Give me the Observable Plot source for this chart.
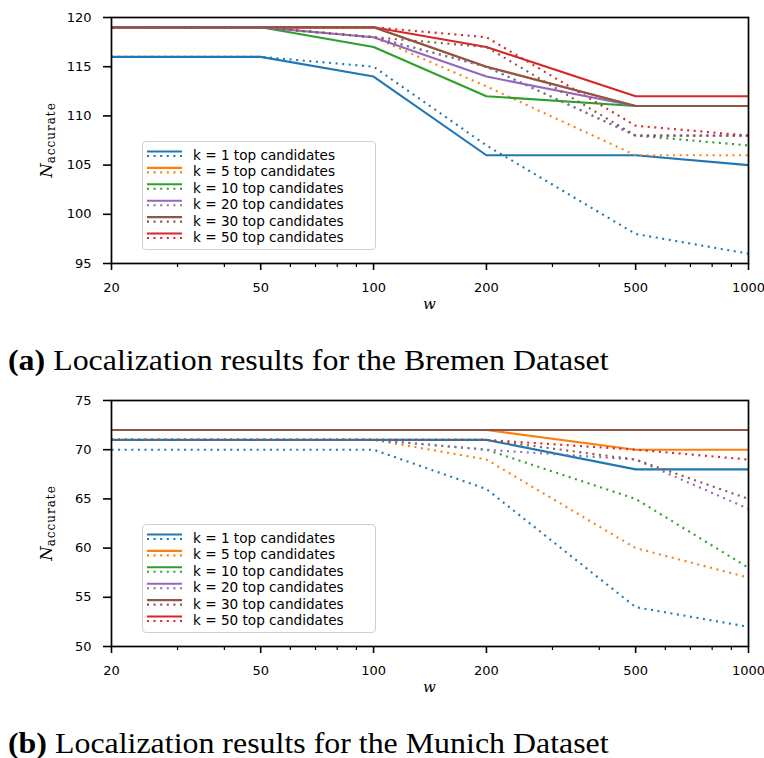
<!DOCTYPE html>
<html><head><meta charset="utf-8">
<script src="https://cdn.jsdelivr.net/npm/d3@7"></script>
<script src="https://cdn.jsdelivr.net/npm/@observablehq/plot@0.6"></script>
<style>
body{margin:0;background:#fff;}
#root{position:relative;width:764px;height:758px;overflow:hidden;background:#fff;}
.panel{position:absolute;left:0;width:764px;height:320px;}
.panel > svg{position:absolute;left:0;top:0;}
.panel > svg text{font-family:"DejaVu Sans";font-size:13px;fill:#000;}
.ylab{position:absolute;left:47px;top:140px;transform:translate(-50%,-50%) rotate(-90deg);white-space:nowrap;font-family:"DejaVu Serif";color:#000;}
.ylab i{font-size:16.5px;}
.ylab sub{font-size:12px;letter-spacing:1px;vertical-align:-3px;}
.xlab{position:absolute;left:429.5px;top:295px;transform:translateX(-50%);font-family:"DejaVu Serif";font-style:italic;font-size:15px;}
.legend{position:absolute;left:142px;top:141px;width:234px;height:109px;box-sizing:border-box;border:1.2px solid #d0d0d0;border-radius:4px;background:rgba(255,255,255,0.8);}
.legend svg{position:absolute;left:-1px;top:-1px;}
.legend svg text{font-family:"DejaVu Sans";font-size:13.6px;fill:#000;}
.caption{position:absolute;left:8px;font-family:"Liberation Serif";font-size:29px;line-height:30px;white-space:nowrap;color:#000;transform:scaleX(1.1);transform-origin:0 50%;}
</style></head><body><div id="root"></div><script>
// x positions (window size w)
const wValues = [20, 50, 100, 200, 500, 1000];
const kValues = [1, 5, 10, 20, 30, 50];
const kColors = ["#1f77b4", "#ff7f0e", "#2ca02c", "#9467bd", "#8c564b", "#d62728"];
const drawOrder = [1, 5, 10, 50, 20, 30];
const xMajorTicks = [20, 50, 100, 200, 500, 1000];
const xMinorTicks = [30, 40, 60, 70, 80, 90, 300, 400, 600, 700, 800, 900];

// Bremen dataset
const bremenSolid1 = [116, 116, 114, 106, 106, 105];
const bremenSolid5 = [119, 119, 119, 115, 111, 111];
const bremenSolid10 = [119, 119, 117, 112, 111, 111];
const bremenSolid20 = [119, 119, 118, 114, 111, 111];
const bremenSolid30 = [119, 119, 119, 115, 111, 111];
const bremenSolid50 = [119, 119, 119, 117, 112, 112];
const bremenDotted1 = [116, 116, 115, 107, 98, 96];
const bremenDotted5 = [119, 119, 118, 113, 106, 106];
const bremenDotted10 = [119, 119, 118, 115, 108, 107];
const bremenDotted20 = [119, 119, 118, 115, 108, 108];
const bremenDotted30 = [119, 119, 118, 117, 108, 108];
const bremenDotted50 = [119, 119, 119, 118, 109, 108];
const bremenYTicks = [95, 100, 105, 110, 115, 120];

// Munich dataset
const munichSolid1 = [71, 71, 71, 71, 68, 68];
const munichSolid5 = [72, 72, 72, 72, 70, 70];
const munichSolid10 = [72, 72, 72, 72, 72, 72];
const munichSolid20 = [72, 72, 72, 72, 72, 72];
const munichSolid30 = [72, 72, 72, 72, 72, 72];
const munichSolid50 = [72, 72, 72, 72, 72, 72];
const munichDotted1 = [70, 70, 70, 66, 54, 52];
const munichDotted5 = [71, 71, 71, 69, 60, 57];
const munichDotted10 = [71, 71, 71, 70, 65, 58];
const munichDotted20 = [71, 71, 71, 70, 69, 64];
const munichDotted30 = [71, 71, 71, 71, 69, 65];
const munichDotted50 = [71, 71, 71, 71, 70, 69];
const munichYTicks = [50, 55, 60, 65, 70, 75];

const legendLabels = kValues.map(k => `k = ${k} top candidates`);
const captions = [
  ["(a)", "Localization results for the Bremen Dataset"],
  ["(b)", "Localization results for the Munich Dataset"]
];

const bremen = {
  solid: {1: bremenSolid1, 5: bremenSolid5, 10: bremenSolid10, 20: bremenSolid20, 30: bremenSolid30, 50: bremenSolid50},
  dotted: {1: bremenDotted1, 5: bremenDotted5, 10: bremenDotted10, 20: bremenDotted20, 30: bremenDotted30, 50: bremenDotted50},
  yDomain: [95, 120], yTicks: bremenYTicks
};
const munich = {
  solid: {1: munichSolid1, 5: munichSolid5, 10: munichSolid10, 20: munichSolid20, 30: munichSolid30, 50: munichSolid50},
  dotted: {1: munichDotted1, 5: munichDotted5, 10: munichDotted10, 20: munichDotted20, 30: munichDotted30, 50: munichDotted50},
  yDomain: [50, 75], yTicks: munichYTicks
};

const DASH = "2,4.6";
const colorOf = k => kColors[kValues.indexOf(k)];

function makePanel(ds, top, cap) {
  const panel = document.createElement("div");
  panel.className = "panel";
  panel.style.top = top + "px";
  const marks = [];
  for (const k of drawOrder) {
    for (const style of ["solid", "dotted"]) {
      const rows = wValues.map((w, i) => ({w, v: ds[style][k][i]}));
      marks.push(Plot.line(rows, {
        x: "w", y: "v", stroke: colorOf(k), strokeWidth: 2.1,
        strokeDasharray: style === "dotted" ? DASH : undefined,
        strokeLinecap: "butt", strokeLinejoin: "round"
      }));
    }
  }
  marks.push(Plot.axisX({ticks: xMinorTicks, tickSize: 4, tickFormat: () => "", label: null, strokeWidth: 1.2}));
  marks.push(Plot.axisX({ticks: xMajorTicks, tickSize: 7, tickPadding: 12, tickFormat: d => String(d), label: null, fontSize: 13, strokeWidth: 1.6}));
  marks.push(Plot.axisY({ticks: ds.yTicks, tickSize: 8, tickPadding: 12, label: null, fontSize: 13, strokeWidth: 1.6}));
  marks.push(Plot.frame({stroke: "#000", strokeWidth: 1.7}));
  const svg = Plot.plot({
    width: 764, height: 320,
    marginLeft: 111, marginRight: 16, marginTop: 17, marginBottom: 57,
    x: {type: "log", domain: [20, 1000]},
    y: {domain: ds.yDomain},
    style: {fontFamily: "DejaVu Sans", fontSize: "13px", color: "#000", background: "transparent", overflow: "visible"},
    marks
  });
  panel.appendChild(svg);

  const yl = document.createElement("div");
  yl.className = "ylab";
  yl.innerHTML = "<i>N</i><sub>accurate</sub>";
  panel.appendChild(yl);

  const xl = document.createElement("div");
  xl.className = "xlab";
  xl.textContent = "w";
  panel.appendChild(xl);

  // legend
  const lg = document.createElement("div");
  lg.className = "legend";
  const ns = "http://www.w3.org/2000/svg";
  const ls = document.createElementNS(ns, "svg");
  ls.setAttribute("width", 234); ls.setAttribute("height", 109);
  kValues.forEach((k, i) => {
    const cy = 14 + i * 16.4;
    const l1 = document.createElementNS(ns, "line");
    l1.setAttribute("x1", 5); l1.setAttribute("x2", 40);
    l1.setAttribute("y1", cy - 3.5); l1.setAttribute("y2", cy - 3.5);
    l1.setAttribute("stroke", colorOf(k)); l1.setAttribute("stroke-width", 2.1);
    ls.appendChild(l1);
    const l2 = document.createElementNS(ns, "line");
    l2.setAttribute("x1", 5); l2.setAttribute("x2", 40);
    l2.setAttribute("y1", cy + 1); l2.setAttribute("y2", cy + 1);
    l2.setAttribute("stroke", colorOf(k)); l2.setAttribute("stroke-width", 2.1);
    l2.setAttribute("stroke-dasharray", DASH);
    ls.appendChild(l2);
    const t = document.createElementNS(ns, "text");
    t.setAttribute("x", 51); t.setAttribute("y", cy + 5);
    t.textContent = legendLabels[i];
    ls.appendChild(t);
  });
  lg.appendChild(ls);
  panel.appendChild(lg);

  document.getElementById("root").appendChild(panel);

  const c = document.createElement("div");
  c.className = "caption";
  c.style.top = (top + 345) + "px";
  c.innerHTML = `<b>${cap[0]}</b> ${cap[1]}`;
  document.getElementById("root").appendChild(c);
}

makePanel(bremen, 0, captions[0]);
makePanel(munich, 383, captions[1]);
</script></body></html>
